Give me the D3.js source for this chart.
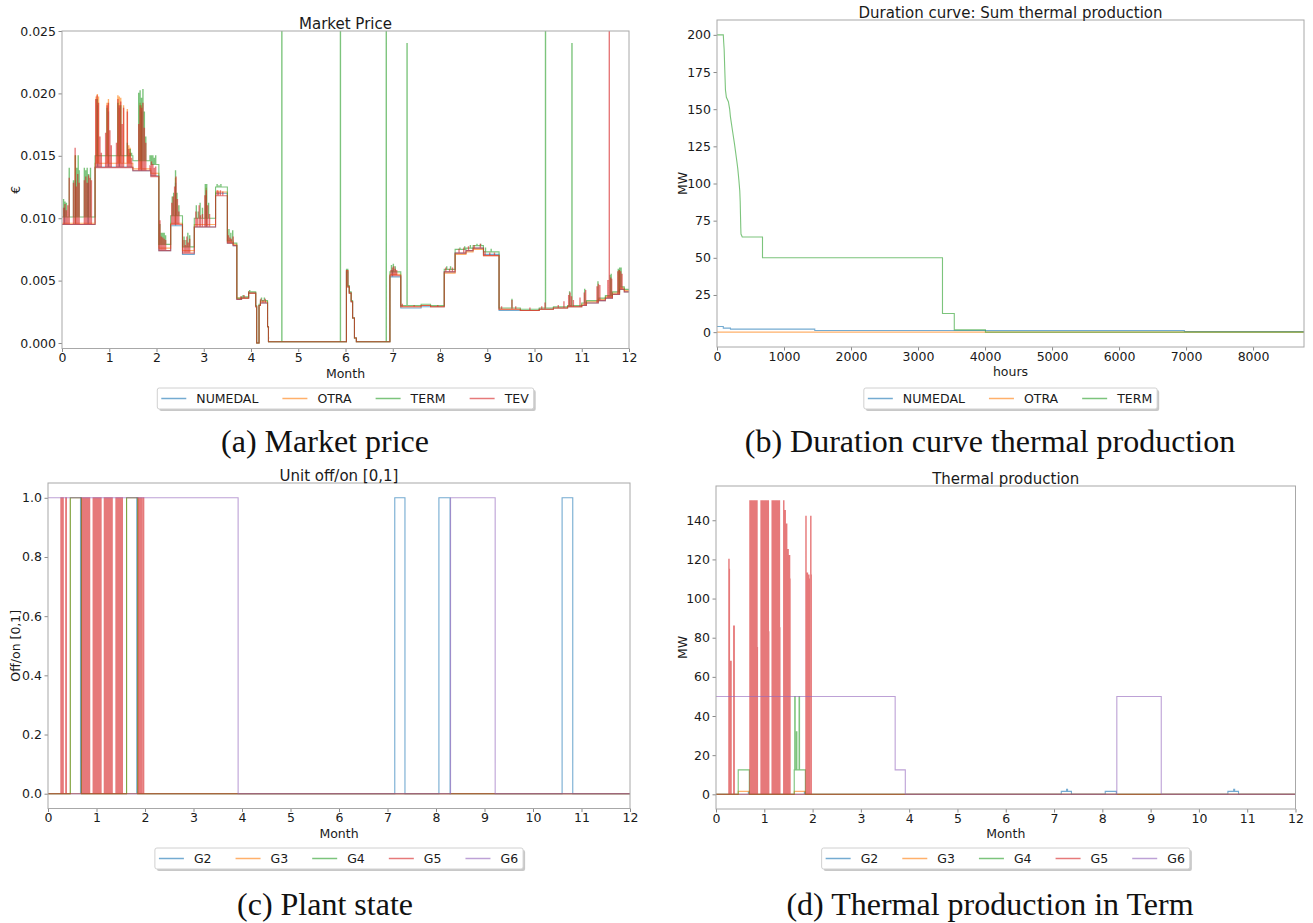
<!DOCTYPE html>
<html><head><meta charset="utf-8">
<script src="https://cdn.jsdelivr.net/npm/d3@7"></script>
<style>
body{margin:0;background:#fff}
text{font-family:"DejaVu Sans",sans-serif;fill:#1a1a1a}
.cap{font-family:"Liberation Serif",serif;fill:#111}
</style>
</head><body>
<svg id="c" width="1313" height="923"></svg>
<script>
// ================= DATA =================
const monthTicks=[0,1,2,3,4,5,6,7,8,9,10,11,12];
const priceTicks=[0,0.005,0.010,0.015,0.020,0.025];
const hourTicks=[0,1000,2000,3000,4000,5000,6000,7000,8000];
const durTicks=[0,25,50,75,100,125,150,175,200];
const stateTicks=[0,0.2,0.4,0.6,0.8,1.0];
const prodTicks=[0,20,40,60,80,100,120,140];

const priceNames=["NUMEDAL","OTRA","TERM","TEV"];
const durNames=["NUMEDAL","OTRA","TERM"];
const unitNames=["G2","G3","G4","G5","G6"];
const captions=["(a) Market price","(b) Duration curve thermal production","(c) Plant state","(d) Thermal production in Term"];

// Market price: step levels [month, €] and short peaks [month, €]
const numedalLevels=[[0,0.0095],[0.7,0.0141],[1.5,0.0138],[1.88,0.0134],[2.05,0.0074],[2.3,0.0094],[2.55,0.0071],[2.8,0.0093],[3.25,0.0120],[3.5,0.0080],[3.62,0.0078],[3.7,0.0035],[3.8,0.0036],[3.95,0.0040],[4.1,0.0029],[4.12,0.0000],[4.17,0.0030],[4.2,0.0032],[4.35,0.0013],[4.37,0.0001],[6.02,0.0057],[6.05,0.0045],[6.08,0.0040],[6.12,0.0033],[6.15,0.0020],[6.19,0.0004],[6.23,0.0001],[6.94,0.0053],[7.17,0.0028],[7.6,0.0029],[7.8,0.0029],[8.09,0.0057],[8.32,0.0072],[8.55,0.0074],[8.7,0.0076],[8.92,0.0071],[9.25,0.0026],[9.7,0.0026],[10.1,0.0027],[10.4,0.0028],[10.7,0.0029],[11.0,0.0030],[11.1,0.0032],[11.35,0.0034],[11.5,0.0036],[11.65,0.0039],[11.8,0.0043],[11.9,0.0041],[12,0.0041]];
const numedalPeaks=[[0.05,0.0108],[0.28,0.0130],[0.55,0.0128],[0.75,0.0190],[0.98,0.0185],[1.21,0.0188],[1.68,0.0185],[2.40,0.0128],[3.05,0.0118],[6.99,0.0058],[8.72,0.0076]];

const otraLevels=[[0,0.0096],[0.7,0.0144],[1.5,0.01395],[1.88,0.0136],[2.05,0.0076],[2.3,0.0096],[2.55,0.0074],[2.8,0.0095],[3.25,0.0121],[3.5,0.0081],[3.62,0.0079],[3.7,0.0036],[3.8,0.0036],[3.95,0.0040],[4.1,0.0029],[4.12,0.0000],[4.17,0.0030],[4.2,0.0033],[4.35,0.0013],[4.37,0.0001],[6.02,0.0058],[6.05,0.0045],[6.08,0.0040],[6.12,0.0033],[6.15,0.0020],[6.19,0.0004],[6.23,0.0001],[6.94,0.0055],[7.17,0.0029],[7.6,0.0030],[7.8,0.0029],[8.09,0.0056],[8.32,0.0071],[8.55,0.0073],[8.7,0.0075],[8.92,0.0070],[9.25,0.0027],[9.7,0.0026],[10.1,0.0027],[10.4,0.0028],[10.7,0.0029],[11.0,0.0031],[11.1,0.0033],[11.35,0.0035],[11.5,0.0037],[11.65,0.0040],[11.8,0.0044],[11.9,0.0042],[12,0.0042]];
const otraPeaks=[[0.28,0.0150],[0.72,0.0197],[0.745,0.0199],[0.77,0.0197],[0.95,0.0192],[0.98,0.0195],[1.18,0.0198],[1.21,0.0197],[1.24,0.0196],[1.30,0.0190],[1.38,0.0187],[1.41,0.0158],[1.44,0.0156],[1.65,0.0192],[1.68,0.0190],[2.40,0.0132],[3.05,0.0124],[3.30,0.0122],[8.72,0.0076],[11.79,0.0058]];

const termLevels=[[0,0.0101],[0.7,0.0150],[1.5,0.0146],[1.88,0.0143],[2.05,0.0079],[2.3,0.0102],[2.55,0.0077],[2.8,0.0100],[3.25,0.0125],[3.5,0.0082],[3.62,0.0080],[3.7,0.0036],[3.8,0.0037],[3.95,0.0041],[4.1,0.0030],[4.12,0.0000],[4.17,0.0031],[4.2,0.0034],[4.35,0.0013],[4.37,0.0001],[6.02,0.0059],[6.05,0.0046],[6.08,0.0041],[6.12,0.0034],[6.15,0.0020],[6.19,0.0004],[6.23,0.0001],[6.94,0.0057],[7.17,0.0030],[7.6,0.0031],[7.8,0.0030],[8.09,0.0059],[8.32,0.0075],[8.55,0.0076],[8.7,0.0078],[8.92,0.0073],[9.25,0.0028],[9.7,0.0027],[10.1,0.0028],[10.4,0.0029],[10.7,0.0030],[11.0,0.0032],[11.1,0.0034],[11.35,0.0036],[11.5,0.0038],[11.65,0.0041],[11.8,0.0045],[11.9,0.0043],[12,0.0043]];
const termPeaks=[[0.03,0.0115],[0.06,0.0113],[0.09,0.0112],[0.15,0.0140],[0.24,0.0130],[0.28,0.0150],[0.31,0.0140],[0.34,0.0150],[0.36,0.0138],[0.47,0.0140],[0.50,0.0138],[0.53,0.0140],[0.56,0.0135],[0.60,0.0140],
[0.74,0.0195],[0.95,0.0188],[1.18,0.0192],[1.24,0.0190],[1.38,0.0160],[1.44,0.0155],[1.47,0.0152],
[1.62,0.0200],[1.65,0.0202],[1.68,0.0196],[1.71,0.0203],[1.74,0.0185],[1.77,0.0165],
[1.86,0.0150],[1.89,0.0150],[1.92,0.0150],[1.95,0.0148],[1.98,0.0150],
[2.07,0.0095],[2.10,0.0088],[2.13,0.0088],[2.16,0.0088],[2.19,0.0086],
[2.33,0.0117],[2.36,0.0120],[2.40,0.0138],[2.43,0.0120],[2.47,0.0110],
[2.58,0.0085],[2.62,0.0082],[2.66,0.0088],[2.70,0.0086],
[2.84,0.0110],[2.88,0.0105],[2.92,0.0112],[2.97,0.0108],[3.03,0.0127],[3.06,0.0127],[3.10,0.0112],
[3.28,0.0127],[3.32,0.0126],[3.36,0.0127],[3.42,0.0125],
[3.53,0.0091],[3.57,0.0088],[3.61,0.0090],
[3.83,0.0038],[3.97,0.0042],[4.04,0.0041],[4.22,0.0036],[4.28,0.0036],
[4.65,0.0300],[5.89,0.0300],[6.86,0.0300],
[6.97,0.0062],[7.01,0.0063],[7.05,0.0061],[7.30,0.0240],
[8.14,0.0061],[8.22,0.0061],[8.42,0.0076],[8.52,0.0077],[8.64,0.0078],[8.78,0.0079],[8.86,0.0079],[8.96,0.0076],[9.08,0.0075],
[9.52,0.0035],[10.23,0.0300],[10.74,0.0041],[10.79,0.0240],[11.06,0.0043],[11.34,0.0049],[11.60,0.0054],[11.62,0.0055],[11.77,0.0059],[11.80,0.0060],[11.83,0.0060]];

const tevLevels=[[0,0.0095],[0.7,0.01405],[1.5,0.0138],[1.88,0.01333],[2.05,0.0074],[2.3,0.0095],[2.55,0.0072],[2.8,0.0093],[3.25,0.0118],[3.5,0.0080],[3.62,0.0078],[3.7,0.0035],[3.8,0.0036],[3.95,0.0040],[4.1,0.0029],[4.12,0.0000],[4.17,0.0030],[4.2,0.0032],[4.35,0.0013],[4.37,0.0001],[6.02,0.0058],[6.05,0.0045],[6.08,0.0040],[6.12,0.0033],[6.15,0.0020],[6.19,0.0004],[6.23,0.0001],[6.94,0.0054],[7.17,0.0029],[7.6,0.0030],[7.8,0.0029],[8.09,0.0057],[8.32,0.0072],[8.55,0.0074],[8.7,0.0076],[8.92,0.0070],[9.25,0.0027],[9.7,0.0026],[10.1,0.0027],[10.4,0.0028],[10.7,0.0029],[11.0,0.0030],[11.1,0.0032],[11.35,0.0034],[11.5,0.0036],[11.65,0.0039],[11.8,0.0043],[11.9,0.0041],[12,0.0041]];
const tevPeaks=[[0.03,0.0108],[0.06,0.0111],[0.09,0.0106],[0.12,0.0110],[0.15,0.0132],
[0.24,0.0128],[0.275,0.0156],[0.30,0.0125],[0.33,0.0135],[0.36,0.0128],
[0.47,0.0130],[0.50,0.0133],[0.53,0.0128],[0.56,0.0134],[0.59,0.0132],[0.62,0.0130],
[0.71,0.0195],[0.74,0.0198],[0.77,0.0192],[0.80,0.0165],[0.83,0.0152],
[0.92,0.0168],[0.95,0.0190],[0.98,0.0192],[1.01,0.0170],[1.04,0.0158],
[1.15,0.0160],[1.18,0.0195],[1.21,0.0190],[1.24,0.0193],[1.27,0.0175],[1.30,0.0188],
[1.38,0.0185],[1.41,0.0155],[1.44,0.0152],[1.47,0.0148],
[1.62,0.0175],[1.65,0.0190],[1.68,0.0188],[1.71,0.0192],[1.74,0.0172],[1.77,0.0160],
[1.86,0.0142],[1.89,0.0145],[1.92,0.0143],[1.95,0.0140],[1.98,0.0141],
[2.07,0.0098],[2.10,0.0085],[2.13,0.0084],[2.16,0.0083],[2.19,0.0082],
[2.32,0.0112],[2.35,0.0117],[2.38,0.0125],[2.41,0.0133],[2.44,0.0115],[2.47,0.0105],
[2.58,0.0082],[2.61,0.0078],[2.64,0.0085],[2.67,0.0080],[2.70,0.0083],
[2.83,0.0105],[2.86,0.0100],[2.90,0.0110],[2.93,0.0102],[2.97,0.0103],[3.02,0.0118],[3.05,0.0122],[3.08,0.0110],[3.12,0.0103],
[3.28,0.0122],[3.31,0.0121],[3.35,0.0122],[3.40,0.0121],
[3.52,0.0086],[3.55,0.0084],[3.58,0.0083],[3.62,0.0085],
[3.78,0.0037],[3.85,0.0038],[3.95,0.0041],[3.98,0.0040],[4.05,0.0040],
[4.20,0.0035],[4.25,0.0034],[4.30,0.0035],
[6.96,0.0058],[6.99,0.0060],[7.02,0.0061],[7.05,0.0059],[7.08,0.0058],
[7.20,0.0031],[7.45,0.0030],[7.70,0.0030],[7.95,0.0030],
[8.12,0.0060],[8.20,0.0059],[8.26,0.0060],
[8.40,0.0075],[8.50,0.0076],[8.60,0.0077],[8.72,0.0078],[8.85,0.0079],
[8.95,0.0073],[9.05,0.0072],[9.15,0.0072],
[9.30,0.0029],[9.52,0.0034],[9.60,0.0029],[9.90,0.0028],[10.15,0.0029],[10.22,0.0032],[10.50,0.0030],[10.62,0.0033],
[10.72,0.0038],[10.75,0.0040],[10.78,0.0037],[10.82,0.0034],
[10.96,0.0036],[11.05,0.0040],[11.08,0.0042],
[11.32,0.0045],[11.35,0.0047],[11.38,0.0046],
[11.55,0.0050],[11.58,0.0300],[11.61,0.0052],[11.63,0.0051],
[11.76,0.0057],[11.79,0.0058],[11.82,0.0057],[11.85,0.0055]];

// Duration curve [hours, MW]
const durNumedal=[[0,3.8],[94,3.8],[94,2.7],[201,2.7],[201,2.0],[1459,2.0],[1459,1.1],[6975,1.1],[6975,0.45],[8760,0.45]];
const durOtra=[[0,0],[8760,0]];
const durTerm=[[0,200],[94,200],[100,195],[107,190],[115,178],[126,163],[140,158],[170,155],[189,150],[200,145],[233,135],[260,127],[296,115],[310,110],[327,102],[340,95],[346,88],[355,70],[358,66],[377,64],[679,64],[679,50],[3365,50],[3365,12.5],[3541,12.5],[3541,1.5],[4006,1.5],[4006,0],[8760,0]];

// Unit state [month, 0/1] (step)
const stateG2=[[0,0],[0.67,1],[0.675,0],[1.83,1],[1.835,0],[7.15,1],[7.36,0],[8.06,1],[8.29,0],[10.6,1],[10.82,0],[12,0]];
const stateG3=[[0,0],[0.46,1],[0.69,0],[1.62,1],[1.85,0],[12,0]];
const stateG4=[[0,0],[0.46,1],[0.69,0],[1.62,1],[1.85,0],[12,0]];
const stateG6=[[0,1],[3.92,0],[8.3,1],[9.22,0],[12,0]];
// G5 daily runs: [start month, first MW, later MW]
const g5Runs=[[0.265,120,115],[0.30,68,68],[0.365,86,86],
[0.70,150,105],[0.73,150,108],[0.76,150,100],[0.79,150,72],[0.82,150,65],[0.845,150,75],
[0.93,150,95],[0.96,150,60],[0.99,150,80],[1.02,150,97],[1.05,150,70],[1.08,150,83],
[1.16,150,96],[1.19,150,90],[1.22,150,97],[1.25,150,70],[1.28,150,93],[1.31,150,85],
[1.40,150,110],[1.43,145,56],[1.46,138,120],[1.49,125,100],[1.52,122,110],
[1.86,142,113],[1.89,113,111],[1.92,112,110],[1.96,142,112]];

// Thermal production [month, MW] (step)
const prodG2=[[0,0],[0.67,1.2],[0.675,0],[1.83,1.2],[1.835,0],[7.15,1.5],[7.26,2.5],[7.28,1.5],[7.36,0],[8.06,1.5],[8.29,0],[10.6,1.5],[10.72,2.5],[10.74,1.5],[10.82,0],[12,0]];
const prodG3=[[0,0],[0.46,1.5],[0.69,0],[1.62,1.5],[1.85,0],[12,0]];
const prodG4=[[0,0],[0.46,12.5],[0.69,0],[1.62,12.5],[1.63,50],[1.64,12.5],[1.665,32],[1.675,12.5],[1.72,50],[1.73,12.5],[1.85,0],[12,0]];
const prodG6=[[0,50],[3.71,12.5],[3.92,0],[8.3,50],[9.22,0],[12,0]];

// ================= DRAW =================
const C=["#1f77b4","#ff7f0e","#2ca02c","#d62728","#9467bd"];
const ALPHA=0.62, LW=1.1, FS=12.5;
const svg=d3.select("#c");
const defs=svg.append("defs");

function levelAt(levels,t){let v=levels[0][1];for(const d of levels){if(d[0]<=t)v=d[1];else break;}return v;}
function withPeaks(levels,peaks){
  const w=0.006;
  const pts=levels.map(d=>[d[0],d[1]]);
  peaks.forEach(([t,p])=>{pts.push([t,p]);pts.push([t+w,levelAt(levels,t+w)]);});
  pts.sort((a,b)=>a[0]-b[0]);
  return pts;
}
function runsProduction(runs){
  const pts=[[0,0]];
  runs.forEach(([s,a,b])=>{pts.push([s,a],[s+0.007,b],[s+0.015,0]);});
  pts.push([12,0]);return pts;
}
function runsState(runs){
  const pts=[[0,0]];
  runs.forEach(([s])=>{pts.push([s,1],[s+0.015,0]);});
  pts.push([12,0]);return pts;
}

function panel(o){
  const g=svg.append("g");
  const x=d3.scaleLinear().domain(o.xd).range([o.x0,o.x1]);
  const y=d3.scaleLinear().domain(o.yd).range([o.y1,o.y0]);
  defs.append("clipPath").attr("id",o.id).append("rect")
    .attr("x",o.x0).attr("y",o.y0).attr("width",o.x1-o.x0).attr("height",o.y1-o.y0);
  const plot=g.append("g").attr("clip-path",`url(#${o.id})`);
  o.series.forEach((s,i)=>{
    const line=d3.line().x(d=>x(d[0])).y(d=>y(d[1]));
    if(s.step) line.curve(d3.curveStepAfter);
    plot.append("path").datum(s.data).attr("d",line).attr("fill","none")
      .attr("stroke",s.color).attr("stroke-width",LW).attr("stroke-opacity",ALPHA)
      .attr("stroke-linejoin","miter");
  });
  const xa=g.append("g").attr("transform",`translate(0,${o.y1})`)
    .call(d3.axisBottom(x).tickValues(o.xt).tickFormat(o.xf).tickSize(3.5).tickPadding(1.5));
  const ya=g.append("g").attr("transform",`translate(${o.x0},0)`)
    .call(d3.axisLeft(y).tickValues(o.yt).tickFormat(o.yf).tickSize(3.5).tickPadding(2.5));
  [xa,ya].forEach(a=>{a.select(".domain").remove();
    a.selectAll("line").attr("stroke","#8a8a8a");
    a.selectAll("text").style("font-size",FS+"px").style("font-family","DejaVu Sans").attr("fill","#1a1a1a");});
  g.append("rect").attr("x",o.x0).attr("y",o.y0).attr("width",o.x1-o.x0).attr("height",o.y1-o.y0)
    .attr("fill","none").attr("stroke","#a8a8a8").attr("stroke-width",1);
  const cx=(o.x0+o.x1)/2;
  g.append("text").attr("x",cx).attr("y",o.titleY).attr("text-anchor","middle").style("font-size","15px").text(o.title);
  g.append("text").attr("x",cx).attr("y",o.xlabY).attr("text-anchor","middle").style("font-size",FS+"px").text(o.xlab);
  g.append("text").attr("transform",`translate(${o.ylabX},${(o.y0+o.y1)/2}) rotate(-90)`)
    .attr("text-anchor","middle").style("font-size",FS+"px").text(o.ylab);
  legend(cx,o.legY,o.series.map(s=>s.name),o.series.map(s=>s.color));
}

function legend(cx,yTop,names,colors){
  const g=svg.append("g");
  const hl=25,pad=10,col=24,h=21;
  const ws=names.map(n=>{const t=g.append("text").style("font-size",FS+"px").text(n);const w=t.node().getComputedTextLength();t.remove();return w;});
  const total=4+d3.sum(ws)+names.length*(hl+pad)+col*(names.length-1)+5;
  const x0=cx-total/2;
  g.append("rect").attr("x",x0+2).attr("y",yTop+2).attr("width",total).attr("height",h).attr("rx",2)
    .attr("fill","#9a9a9a").attr("fill-opacity",0.55);
  g.append("rect").attr("x",x0).attr("y",yTop).attr("width",total).attr("height",h).attr("rx",2)
    .attr("fill","#fff").attr("stroke","#d0d0d0");
  let xx=x0+4;
  names.forEach((n,i)=>{
    g.append("line").attr("x1",xx).attr("x2",xx+hl).attr("y1",yTop+h/2).attr("y2",yTop+h/2)
      .attr("stroke",colors[i]).attr("stroke-width",1.5).attr("stroke-opacity",ALPHA);
    g.append("text").attr("x",xx+hl+pad).attr("y",yTop+h/2+4.5).style("font-size",FS+"px").text(n);
    xx+=hl+pad+ws[i]+col;
  });
}

const f0=d3.format("d"), f3=d3.format(".3f"), f1=d3.format(".1f");

panel({id:"ca",x0:62,x1:629,y0:31,y1:348.5,xd:[0,12],yd:[-0.00044,0.025],xt:monthTicks,yt:priceTicks,xf:f0,yf:f3,
  title:"Market Price",titleY:29,xlab:"Month",xlabY:377.5,ylab:"€",ylabX:20,legY:388,
  series:[
    {name:priceNames[0],color:C[0],step:true,data:withPeaks(numedalLevels,numedalPeaks)},
    {name:priceNames[1],color:C[1],step:true,data:withPeaks(otraLevels,otraPeaks)},
    {name:priceNames[2],color:C[2],step:true,data:withPeaks(termLevels,termPeaks)},
    {name:priceNames[3],color:C[3],step:true,data:withPeaks(tevLevels,tevPeaks)}]});

panel({id:"cb",x0:717,x1:1304,y0:20,y1:347,xd:[0,8760],yd:[-10,210],xt:hourTicks,yt:durTicks,xf:f0,yf:f0,
  title:"Duration curve: Sum thermal production",titleY:17.5,xlab:"hours",xlabY:375.5,ylab:"MW",ylabX:687,legY:388,
  series:[
    {name:durNames[0],color:C[0],step:false,data:durNumedal},
    {name:durNames[1],color:C[1],step:false,data:durOtra},
    {name:durNames[2],color:C[2],step:false,data:durTerm}]});

panel({id:"cc",x0:48,x1:630,y0:483,y1:808.5,xd:[0,12],yd:[-0.05,1.05],xt:monthTicks,yt:stateTicks,xf:f0,yf:f1,
  title:"Unit off/on [0,1]",titleY:481,xlab:"Month",xlabY:837.5,ylab:"Off/on [0,1]",ylabX:20,legY:848,
  series:[
    {name:unitNames[0],color:C[0],step:true,data:stateG2},
    {name:unitNames[1],color:C[1],step:true,data:stateG3},
    {name:unitNames[2],color:C[2],step:true,data:stateG4},
    {name:unitNames[3],color:C[3],step:true,data:runsState(g5Runs)},
    {name:unitNames[4],color:C[4],step:true,data:stateG6}]});

panel({id:"cd",x0:716,x1:1295.5,y0:486,y1:809,xd:[0,12],yd:[-7.5,157.5],xt:monthTicks,yt:prodTicks,xf:f0,yf:f0,
  title:"Thermal production",titleY:483.5,xlab:"Month",xlabY:837.5,ylab:"MW",ylabX:687,legY:848,
  series:[
    {name:unitNames[0],color:C[0],step:true,data:prodG2},
    {name:unitNames[1],color:C[1],step:true,data:prodG3},
    {name:unitNames[2],color:C[2],step:true,data:prodG4},
    {name:unitNames[3],color:C[3],step:true,data:runsProduction(g5Runs)},
    {name:unitNames[4],color:C[4],step:true,data:prodG6}]});

// captions
const capPos=[[325,452],[990,452],[325,915],[990,915]];
captions.forEach((t,i)=>svg.append("text").attr("class","cap").attr("x",capPos[i][0]).attr("y",capPos[i][1])
  .attr("text-anchor","middle").style("font-size","32px").text(t));
</script>
</body></html>
